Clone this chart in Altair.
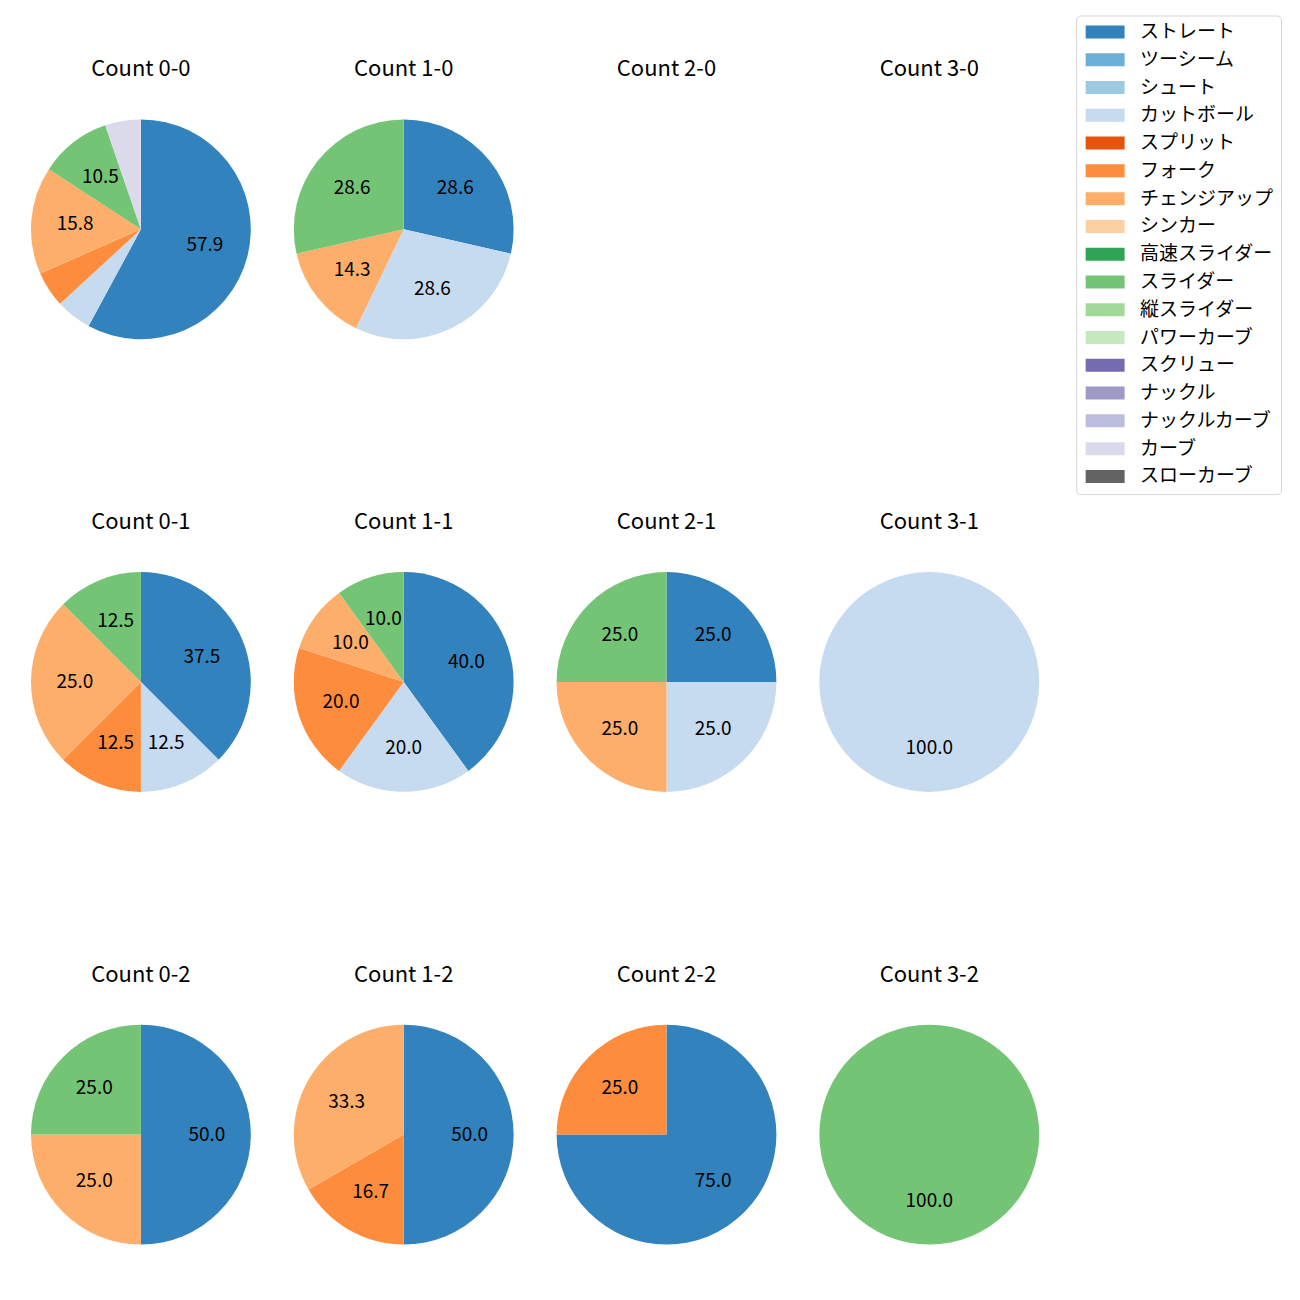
import altair as alt
import pandas as pd

pitch_types = ["ストレート", "ツーシーム", "シュート", "カットボール", "スプリット", "フォーク",
               "チェンジアップ", "シンカー", "高速スライダー", "スライダー", "縦スライダー",
               "パワーカーブ", "スクリュー", "ナックル", "ナックルカーブ", "カーブ", "スローカーブ"]
pitch_colors = ["#3182bd", "#6baed6", "#9ecae1", "#c6dbef", "#e6550d", "#fd8d3c",
                "#fdae6b", "#fdd0a2", "#31a354", "#74c476", "#a1d99b", "#c7e9c0",
                "#756bb1", "#9e9ac8", "#bcbddc", "#dadaeb", "#636363"]

panel_counts = ["0-0", "1-0", "2-0", "3-0",
                "0-1", "1-1", "2-1", "3-1",
                "0-2", "1-2", "2-2", "3-2"]

row_count = (["0-0"] * 6 + ["1-0"] * 4 + ["0-1"] * 5 + ["1-1"] * 5 + ["2-1"] * 4
             + ["3-1"] + ["0-2"] * 3 + ["1-2"] * 3 + ["2-2"] * 2 + ["3-2"])
row_pitch = (["ストレート", "カットボール", "フォーク", "チェンジアップ", "スライダー", "カーブ"]
             + ["ストレート", "カットボール", "チェンジアップ", "スライダー"]
             + ["ストレート", "カットボール", "フォーク", "チェンジアップ", "スライダー"]
             + ["ストレート", "カットボール", "フォーク", "チェンジアップ", "スライダー"]
             + ["ストレート", "カットボール", "チェンジアップ", "スライダー"]
             + ["カットボール"]
             + ["ストレート", "チェンジアップ", "スライダー"]
             + ["ストレート", "フォーク", "チェンジアップ"]
             + ["ストレート", "フォーク"]
             + ["スライダー"])
row_n = ([11, 1, 1, 3, 2, 1]
         + [2, 2, 1, 2]
         + [3, 1, 1, 2, 1]
         + [4, 2, 2, 1, 1]
         + [1, 1, 1, 1]
         + [1]
         + [2, 1, 1]
         + [3, 1, 2]
         + [3, 1]
         + [1])

df = pd.DataFrame({"cnt": row_count, "pitch": row_pitch, "n": row_n})
df["ord"] = df["pitch"].map(pitch_types.index)
df["pct"] = df.groupby("cnt")["n"].transform(lambda s: s / s.sum() * 100)
df["label"] = [f"{p:.1f}" if p >= 8 else "" for p in df["pct"]]

FONT = "Noto Sans CJK JP"
R = 110

color_enc = alt.Color(
    "pitch:N",
    scale=alt.Scale(domain=pitch_types, range=pitch_colors),
    legend=alt.Legend(
        title=None, orient="none", legendX=1046, legendY=-104,
        symbolType="M-1,-0.93H4.57V0.93H-1Z", symbolSize=196, symbolStrokeWidth=0,
        symbolOpacity=1, labelFont=FONT, labelFontSize=19, labelColor="#000000",
        labelOffset=38, labelLimit=400, rowPadding=7.8, padding=7,
        strokeColor="#d6d6d6", fillColor="#ffffff", cornerRadius=4,
    ),
)


def panel(c):
    base = alt.Chart(df).transform_filter(alt.datum.cnt == c).encode(
        theta=alt.Theta("n:Q", stack=True),
        order=alt.Order("ord:Q", sort="ascending"),
    )
    arc = base.mark_arc(outerRadius=R).encode(color=color_enc)
    txt = base.mark_text(radius=R * 0.6, font=FONT, fontSize=19, color="#000000").encode(
        text="label:N"
    )
    return alt.layer(arc, txt).properties(
        width=2 * R, height=2 * R,
        title=alt.TitleParams(f"Count {c}", font=FONT, fontSize=22, fontWeight="normal",
                              color="#000000", offset=21, baseline="alphabetic"),
    )


rows = []
for r in range(3):
    rows.append(alt.hconcat(*[panel(c) for c in panel_counts[r * 4:(r + 1) * 4]], spacing=43))

chart = alt.vconcat(*rows, spacing=172).properties(
    padding={"left": 23, "top": 6, "right": 10, "bottom": 10}
).configure_view(stroke=None)

chart.save("out.html", embed_options={"renderer": "svg", "actions": False})
